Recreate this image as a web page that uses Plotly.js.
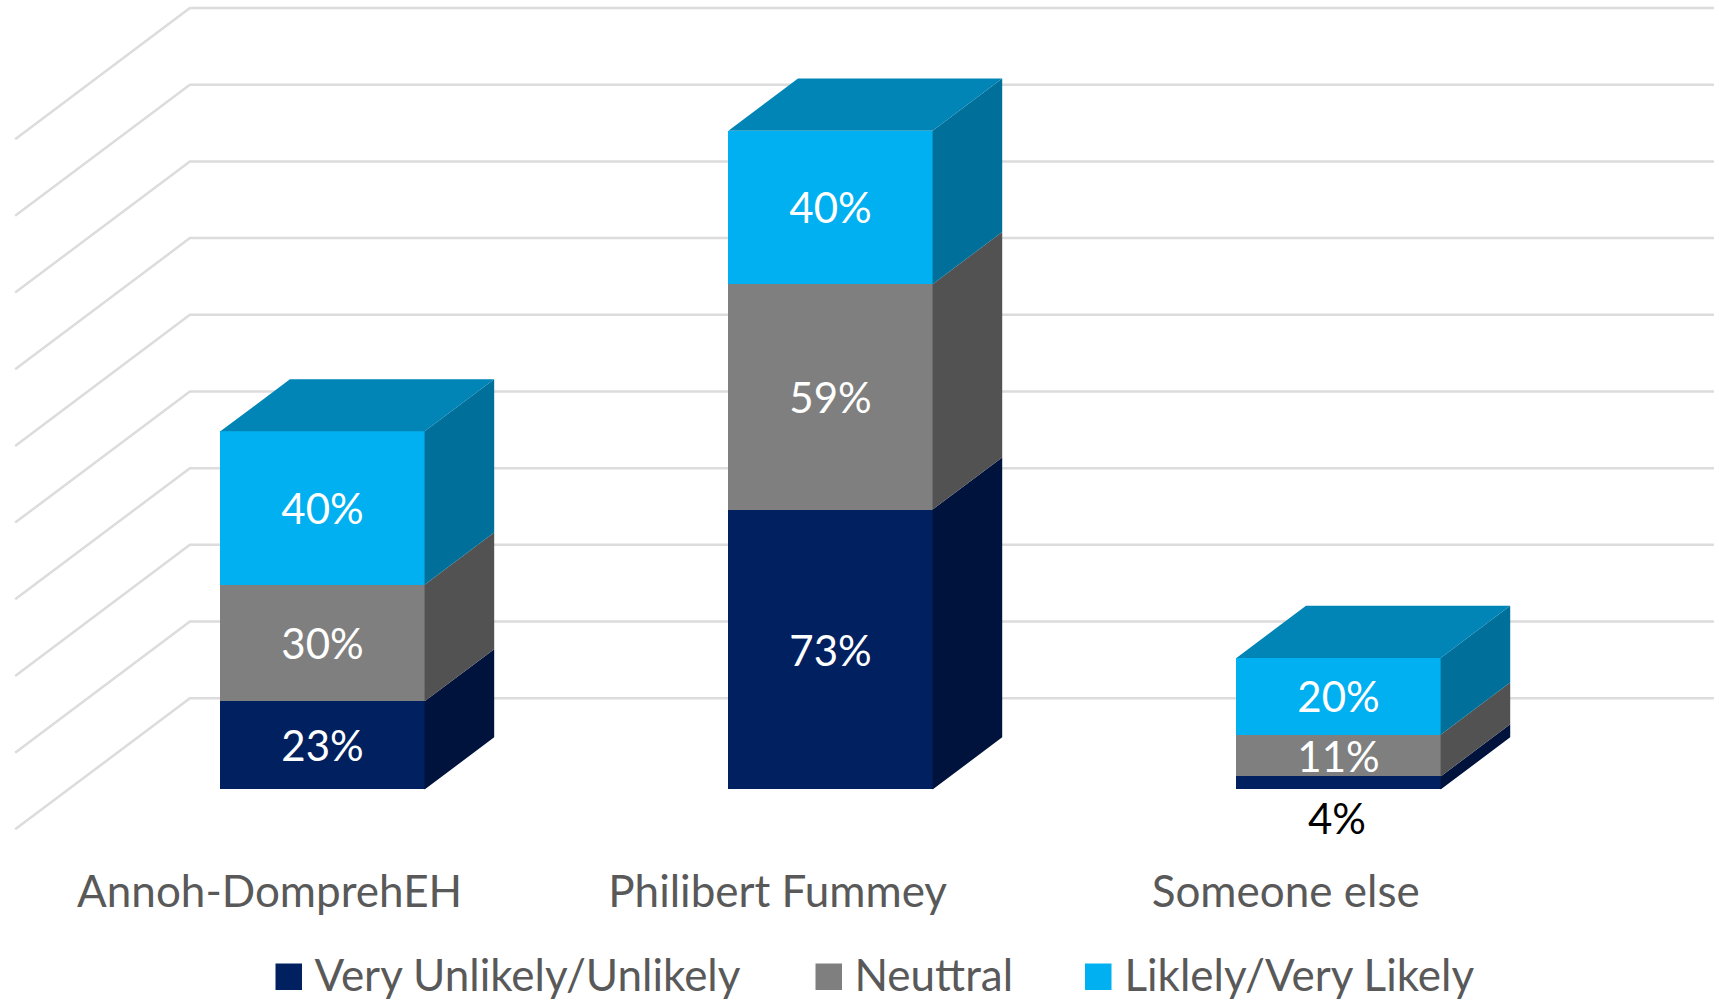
<!DOCTYPE html>
<html>
<head>
<meta charset="utf-8">
<script src="https://cdn.plot.ly/plotly-3.0.1.min.js"></script>
<style>html,body{margin:0;padding:0;background:#fff;overflow:hidden}</style>
</head>
<body>
<div id="chart" style="width:1719px;height:1001px"></div>
<script>
const categories = ['Annoh-DomprehEH', 'Philibert Fummey', 'Someone else'];
const positions = [0, 1, 2];
const tickPositions = [-0.104, 0.896, 1.896];
const veryUnlikely = [23, 73, 3.4];
const neutral = [30.4, 58.8, 10.9];
const likely = [40, 40, 20];
const veryUnlikelyLabels = ['23%', '73%', ''];
const neutralLabels = ['30%', '59%', '11%'];
const likelyLabels = ['40%', '40%', '20%'];
const smallLabel = '4%';
const gridValues = [0, 20, 40, 60, 80, 100, 120, 140, 160, 180];

const names = ['Very Unlikely/Unlikely', 'Neuttral', 'Liklely/Very Likely'];
const frontColors = ['#002060', '#7F7F7F', '#00B0F0'];
const sideColors = ['#00133D', '#525252', '#006F99'];
const topColor = '#0085B6';
const textGrey = '#595959';
const fontFamily = 'Lato, sans-serif';

const W = 1719, H = 1001, plotBottom = 862;
const barWidth = 0.402, depthX = 0.137, depthY = 13.6;
const wallX = -0.261, wallY = 23.8, wallRight = 2.739, floorDX = 0.344, floorDY = 34.2;
const series = [veryUnlikely, neutral, likely];
const seriesLabels = [veryUnlikelyLabels, neutralLabels, likelyLabels];

const traces = [];
const legendIds = ['legend', 'legend2', 'legend3'];
series.forEach((vals, s) => {
  traces.push({
    type: 'bar', name: names[s], x: positions, y: vals, width: barWidth,
    marker: {color: frontColors[s], line: {width: 0}},
    text: seriesLabels[s],
    textposition: 'inside', insidetextanchor: 'middle', constraintext: 'none', textangle: 0,
    insidetextfont: {family: fontFamily, size: 42, color: '#FFFFFF'},
    legend: legendIds[s], hoverinfo: 'name+y'
  });
});
// side faces and top faces, derived from the stacked values
series.forEach((vals, s) => {
  const xs = [], ys = [];
  vals.forEach((v, i) => {
    let base = 0;
    for (let k = 0; k < s; k++) base += series[k][i];
    const r = positions[i] + barWidth / 2;
    xs.push(r, r + depthX, r + depthX, r, r, null);
    ys.push(base, base + depthY, base + v + depthY, base + v, base, null);
  });
  traces.push({type: 'scatter', mode: 'lines', x: xs, y: ys, fill: 'toself', fillcolor: sideColors[s],
    line: {width: 0}, showlegend: false, hoverinfo: 'skip'});
});
(() => {
  const xs = [], ys = [];
  positions.forEach((p, i) => {
    const t = veryUnlikely[i] + neutral[i] + likely[i];
    const l = p - barWidth / 2, r = p + barWidth / 2;
    xs.push(l, l + depthX, r + depthX, r, l, null);
    ys.push(t, t + depthY, t + depthY, t, t, null);
  });
  traces.push({type: 'scatter', mode: 'lines', x: xs, y: ys, fill: 'toself', fillcolor: topColor,
    line: {width: 0}, showlegend: false, hoverinfo: 'skip'});
})();

const shapes = gridValues.map(g => ({
  type: 'path', xref: 'x', yref: 'y', layer: 'below',
  path: `M ${wallX - floorDX} ${g + wallY - floorDY} L ${wallX} ${g + wallY} L ${wallRight} ${g + wallY}`,
  line: {color: '#DCDCDC', width: 2.5}
}));
// enlarged legend swatches behind the legend keys
const swatchLeft = [275.5, 815.5, 1085];
swatchLeft.forEach((px, s) => shapes.push({
  type: 'rect', xref: 'paper', yref: 'paper', layer: 'below',
  x0: px / W, x1: (px + 26.5) / W,
  y0: (plotBottom - 990) / plotBottom, y1: (plotBottom - 963.5) / plotBottom,
  fillcolor: frontColors[s], line: {width: 0}
}));

const legendX = [274.4, 814.4, 1084.4];
function legendOf(s) {
  return {orientation: 'h', x: legendX[s] / W, xanchor: 'left', y: (plotBottom - 974.5) / plotBottom, yanchor: 'middle',
    bgcolor: 'rgba(0,0,0,0)', borderwidth: 0, itemwidth: 30, itemclick: false, itemdoubleclick: false,
    font: {family: fontFamily, size: 44, color: textGrey}};
}

const layout = {
  width: W, height: H,
  margin: {l: 0, r: 0, t: 0, b: H - plotBottom, pad: 0, autoexpand: false},
  paper_bgcolor: '#FFFFFF', plot_bgcolor: '#FFFFFF',
  barmode: 'stack',
  showlegend: true,
  legend: legendOf(0), legend2: legendOf(1), legend3: legendOf(2),
  xaxis: {range: [-0.6348, 2.749], tickmode: 'array', tickvals: tickPositions, ticktext: categories,
    showgrid: false, zeroline: false, showline: false, ticks: '', fixedrange: true, automargin: false,
    tickfont: {family: fontFamily, size: 44, color: textGrey}},
  yaxis: {range: [-18.91, 205.9], visible: false, fixedrange: true, automargin: false},
  shapes: shapes,
  annotations: [{
    x: positions[2] - 0.002, y: -7.5, xref: 'x', yref: 'y', text: smallLabel, showarrow: false,
    font: {family: fontFamily, size: 42, color: '#000000'}
  }]
};
Plotly.newPlot('chart', traces, layout, {displayModeBar: false});
</script>
</body>
</html>
